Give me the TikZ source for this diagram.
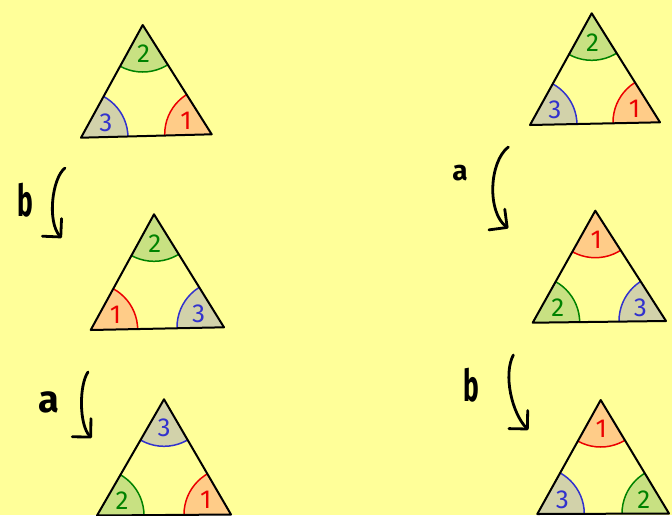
\documentclass[tikz,border=0pt]{standalone}
\usepackage{fontspec}
\setmainfont{Fira Sans}
\usetikzlibrary{calc,arrows.meta}
\definecolor{bg}{RGB}{255,255,153}
\definecolor{orf}{RGB}{255,204,136}
\definecolor{grf}{RGB}{200,225,130}
\definecolor{khf}{RGB}{210,210,170}
\definecolor{rds}{RGB}{235,0,0}
\definecolor{grs}{RGB}{0,130,0}
\definecolor{bls}{RGB}{50,50,205}
\tikzset{
  sec1/.style={fill=orf}, arc1/.style={draw=rds,line width=1.5pt}, num1/.style={text=rds},
  sec2/.style={fill=grf}, arc2/.style={draw=grs,line width=1.5pt}, num2/.style={text=grs},
  sec3/.style={fill=khf}, arc3/.style={draw=bls,line width=1.5pt}, num3/.style={text=bls},
  edge/.style={draw=black,line width=2pt,line join=round},
  digit/.style={font=\fontsize{26}{26}\selectfont, inner sep=0pt},
  turn/.style={line width=2.8pt, line cap=round, -{Straight Barb[length=13pt,width=26pt,round]}},
  letter/.style={inner sep=0pt, text=black}
}
% #1 name, #2 apex, #3 left, #4 right, #5 top no., #6 left no., #7 right no.
\newcommand\tri[7]{%
  \coordinate (#1a) at (#2);
  \coordinate (#1l) at (#3);
  \coordinate (#1r) at (#4);
  \coordinate (#1g) at (barycentric cs:#1a=1,#1l=1,#1r=1);
  \begin{scope}
    \clip (#1a) -- (#1l) -- (#1r) -- cycle;
    \fill[sec#5] (#1a) circle (47);
    \fill[sec#6] (#1l) circle (47);
    \fill[sec#7] (#1r) circle (47);
    \draw[arc#5] (#1a) circle (47);
    \draw[arc#6] (#1l) circle (47);
    \draw[arc#7] (#1r) circle (47);
  \end{scope}
  \draw[edge] (#1a) -- (#1l) -- (#1r) -- cycle;
  \node[digit,num#5] (#1na) at ($(#1a)!29pt!(#1g)$) {#5};
  \node[digit,num#6] (#1nl) at ($(#1l)!29pt!(#1g)$) {#6};
  \node[digit,num#7] (#1nr) at ($(#1r)!29pt!(#1g)$) {#7};
}
\begin{document}
\begin{tikzpicture}[x=1pt,y=-1pt]
\fill[bg] (0,0) rectangle (672,515);
\useasboundingbox (0,0) rectangle (672,515);

\tri{t1}{142.7,25}{81,137.7}{211.7,134.3}{2}{3}{1}
\tri{t2}{154,214.3}{90.7,330}{224,327.3}{2}{1}{3}
\tri{t3}{164,399.3}{97,515.5}{231,514.5}{3}{2}{1}
\tri{t4}{591.7,13.3}{530,125}{660,122.3}{2}{3}{1}
\tri{t5}{595.3,210.7}{532.7,322.7}{666,321}{1}{2}{3}
\tri{t6}{600.7,400}{537.3,514}{669,513.5}{1}{3}{2}

% arrows
\coordinate (a1s) at (65,168);   \coordinate (a1e) at (61.7,238);
\coordinate (a2s) at (88,372);   \coordinate (a2e) at (91.7,438);
\coordinate (a3s) at (508.3,147); \coordinate (a3e) at (508.3,228.3);
\coordinate (a4s) at (513.3,355); \coordinate (a4e) at (528.3,430);
\draw[turn] (a1s) .. controls (52,178) and (47,222) .. (a1e);
\draw[turn] (a2s) .. controls (79,385) and (79,425) .. (a2e);
\draw[turn] (a3s) .. controls (489,162) and (487,212) .. (a3e);
\draw[turn] (a4s) .. controls (503,375) and (512,413) .. (a4e);

\node[letter,font=\bfseries\fontsize{44}{44}\selectfont,xscale=0.6] (lb1) at (25.5,200) {b};
\node[letter,font=\bfseries\fontsize{38}{38}\selectfont] (la1) at (48.5,402) {a};
\node[letter,font=\bfseries\fontsize{28}{28}\selectfont] (la2) at (460,173.5) {a};
\node[letter,font=\bfseries\fontsize{44}{44}\selectfont,xscale=0.6] (lb2) at (471.5,385) {b};
\end{tikzpicture}
\end{document}
